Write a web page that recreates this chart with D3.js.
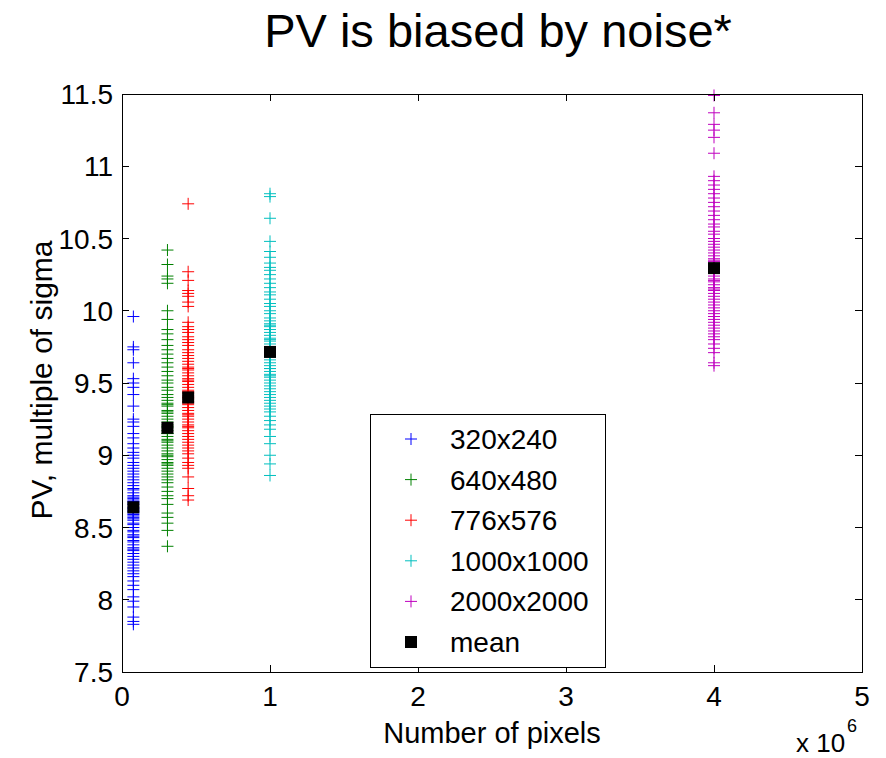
<!DOCTYPE html>
<html>
<head>
<meta charset="utf-8">
<script src="https://cdn.jsdelivr.net/npm/d3@7"></script>
<style>
  body { margin: 0; background: #fff; }
  svg { display: block; font-family: "Liberation Sans", Arial, sans-serif; }
</style>
</head>
<body>
<svg id="chart" width="886" height="758"></svg>
<script>
// ---------- data ----------
const seriesNames = ["320x240", "640x480", "776x576", "1000x1000", "2000x2000"];
const pixelCounts = [76800, 307200, 446976, 1000000, 4000000];
const seriesColors = ["#0000ff", "#008000", "#ff0000", "#00bfbf", "#bf00bf"];

const pv320 = [9.96, 9.75, 9.73, 9.64, 9.53, 9.50, 9.47, 9.42, 9.34, 9.25, 9.23, 9.20, 9.15, 9.12, 9.08, 9.05, 9.02, 9.00, 8.98, 8.95, 8.93, 8.91, 8.89, 8.87, 8.85, 8.83, 8.81, 8.79, 8.77, 8.76, 8.74, 8.72, 8.70, 8.69, 8.67, 8.66, 8.64, 8.63, 8.61, 8.60, 8.58, 8.57, 8.55, 8.53, 8.52, 8.50, 8.48, 8.47, 8.45, 8.43, 8.41, 8.40, 8.38, 8.36, 8.34, 8.32, 8.30, 8.28, 8.26, 8.24, 8.22, 8.20, 8.18, 8.16, 8.13, 8.10, 8.07, 8.02, 7.99, 7.95, 7.88, 7.85, 7.83, 8.71, 8.62, 8.56, 8.44, 8.68, 8.59, 8.35];
const pv640 = [10.42, 10.32, 10.24, 10.22, 10.19, 10.00, 9.94, 9.87, 9.84, 9.80, 9.76, 9.73, 9.70, 9.67, 9.64, 9.61, 9.58, 9.55, 9.52, 9.50, 9.47, 9.45, 9.42, 9.40, 9.38, 9.36, 9.34, 9.31, 9.29, 9.27, 9.25, 9.23, 9.21, 9.19, 9.17, 9.15, 9.13, 9.11, 9.09, 9.07, 9.05, 9.03, 9.01, 8.99, 8.97, 8.95, 8.93, 8.91, 8.89, 8.87, 8.85, 8.83, 8.81, 8.78, 8.75, 8.72, 8.70, 8.66, 8.60, 8.57, 8.53, 8.48, 8.37, 9.20, 9.10, 9.30, 9.00, 8.94, 9.35, 9.15];
const pv776 = [10.74, 10.27, 10.21, 10.14, 10.12, 10.10, 10.06, 10.03, 9.92, 9.89, 9.87, 9.85, 9.82, 9.80, 9.78, 9.76, 9.73, 9.71, 9.69, 9.67, 9.65, 9.63, 9.61, 9.59, 9.57, 9.55, 9.53, 9.51, 9.49, 9.47, 9.45, 9.43, 9.41, 9.39, 9.37, 9.35, 9.33, 9.31, 9.29, 9.27, 9.25, 9.23, 9.21, 9.19, 9.17, 9.15, 9.13, 9.11, 9.09, 9.07, 9.05, 9.03, 9.01, 8.98, 8.95, 8.93, 8.91, 8.85, 8.77, 8.72, 8.69, 9.44, 9.36, 9.52, 9.28, 9.60, 9.20, 9.40];
const pv1000 = [10.81, 10.79, 10.64, 10.48, 10.41, 10.37, 10.33, 10.30, 10.28, 10.25, 10.22, 10.19, 10.16, 10.13, 10.11, 10.08, 10.05, 10.03, 10.00, 9.98, 9.95, 9.93, 9.91, 9.89, 9.87, 9.85, 9.83, 9.81, 9.79, 9.77, 9.75, 9.73, 9.71, 9.69, 9.66, 9.64, 9.62, 9.60, 9.58, 9.56, 9.54, 9.52, 9.50, 9.48, 9.46, 9.44, 9.42, 9.40, 9.38, 9.36, 9.34, 9.32, 9.30, 9.27, 9.24, 9.21, 9.18, 9.13, 9.08, 9.00, 8.94, 8.86, 9.72, 9.68, 9.80, 9.60, 9.90, 9.55];
const pv2000 = [11.49, 11.37, 11.29, 11.25, 11.20, 11.09, 10.93, 10.90, 10.87, 10.84, 10.81, 10.78, 10.75, 10.72, 10.69, 10.66, 10.63, 10.60, 10.58, 10.55, 10.53, 10.50, 10.48, 10.46, 10.44, 10.42, 10.40, 10.38, 10.36, 10.34, 10.32, 10.30, 10.28, 10.26, 10.24, 10.22, 10.20, 10.18, 10.16, 10.14, 10.12, 10.10, 10.08, 10.06, 10.04, 10.02, 10.00, 9.98, 9.96, 9.94, 9.92, 9.90, 9.88, 9.86, 9.84, 9.82, 9.80, 9.77, 9.74, 9.71, 9.64, 9.62, 10.27, 10.21, 10.35, 10.15];
const meanValues = [8.64, 9.19, 9.40, 9.715, 10.295];

const xTicks = [0, 1, 2, 3, 4, 5];
const xTickLabels = ["0", "1", "2", "3", "4", "5"];
const yTicks = [7.5, 8, 8.5, 9, 9.5, 10, 10.5, 11, 11.5];
const yTickLabels = ["7.5", "8", "8.5", "9", "9.5", "10", "10.5", "11", "11.5"];

// ---------- layout ----------
const svg = d3.select("#chart");
const L = 122, R = 862, T = 94, B = 672;
const x = d3.scaleLinear().domain([0, 5e6]).range([L, R]);
const y = d3.scaleLinear().domain([7.5, 11.5]).range([B, T]);
const tickLen = 7.4;

const allSeries = [pv320, pv640, pv776, pv1000, pv2000];

// plus markers
const plusPath = (s) => `M${-s},0H${s}M0,${-s}V${s}`;
allSeries.forEach((vals, i) => {
  svg.append("g").selectAll("path").data(vals).join("path")
    .attr("transform", d => `translate(${x(pixelCounts[i])},${y(d)})`)
    .attr("d", plusPath(6))
    .attr("stroke", seriesColors[i])
    .attr("stroke-width", 1)
    .attr("fill", "none");
});

// means
svg.append("g").selectAll("rect").data(meanValues).join("rect")
  .attr("x", (d, i) => x(pixelCounts[i]) - 6)
  .attr("y", d => y(d) - 6)
  .attr("width", 12).attr("height", 12)
  .attr("fill", "#000");

// axes box + ticks
const axG = svg.append("g").attr("stroke", "#000").attr("stroke-width", 1).attr("shape-rendering", "crispEdges");
axG.append("rect").attr("x", L).attr("y", T).attr("width", R - L).attr("height", B - T).attr("fill", "none");
xTicks.forEach(t => {
  const px = x(t * 1e6);
  axG.append("line").attr("x1", px).attr("x2", px).attr("y1", B).attr("y2", B - tickLen);
  axG.append("line").attr("x1", px).attr("x2", px).attr("y1", T).attr("y2", T + tickLen);
});
yTicks.forEach(t => {
  const py = y(t);
  axG.append("line").attr("x1", L).attr("x2", L + tickLen).attr("y1", py).attr("y2", py);
  axG.append("line").attr("x1", R).attr("x2", R - tickLen).attr("y1", py).attr("y2", py);
});

// tick labels
svg.append("g").selectAll("text").data(xTicks).join("text")
  .attr("x", d => x(d * 1e6)).attr("y", 706)
  .attr("text-anchor", "middle").attr("font-size", 28)
  .text((d, i) => xTickLabels[i]);
svg.append("g").selectAll("text").data(yTicks).join("text")
  .attr("x", 113).attr("y", d => y(d) + 10)
  .attr("text-anchor", "end").attr("font-size", 28)
  .text((d, i) => yTickLabels[i]);

// exponent
svg.append("text").attr("x", 796).attr("y", 752).attr("font-size", 26).text("x 10");
svg.append("text").attr("x", 847).attr("y", 732).attr("font-size", 18).text("6");

// titles
svg.append("text").attr("x", 498).attr("y", 47).attr("text-anchor", "middle")
  .attr("font-size", 47).text("PV is biased by noise*");
svg.append("text").attr("x", 492).attr("y", 743).attr("text-anchor", "middle")
  .attr("font-size", 29).text("Number of pixels");
svg.append("text").attr("transform", "translate(52,380) rotate(-90)")
  .attr("text-anchor", "middle").attr("font-size", 30).text("PV, multiple of sigma");

// legend
const lg = svg.append("g");
lg.append("rect").attr("x", 370).attr("y", 414).attr("width", 235).attr("height", 253)
  .attr("fill", "#fff").attr("stroke", "#000").attr("stroke-width", 1).attr("shape-rendering", "crispEdges");
const legendItems = seriesNames.concat(["mean"]);
const rowY = i => 439 + i * 40.6;
legendItems.forEach((name, i) => {
  const cy = rowY(i);
  if (i < seriesNames.length) {
    lg.append("path").attr("transform", `translate(411,${cy})`).attr("d", plusPath(6))
      .attr("stroke", seriesColors[i]).attr("stroke-width", 1).attr("fill", "none");
  } else {
    lg.append("rect").attr("x", 405).attr("y", cy - 6).attr("width", 12).attr("height", 12).attr("fill", "#000");
  }
  lg.append("text").attr("x", 450).attr("y", cy + 10).attr("font-size", 28).text(name);
});
</script>
</body>
</html>
